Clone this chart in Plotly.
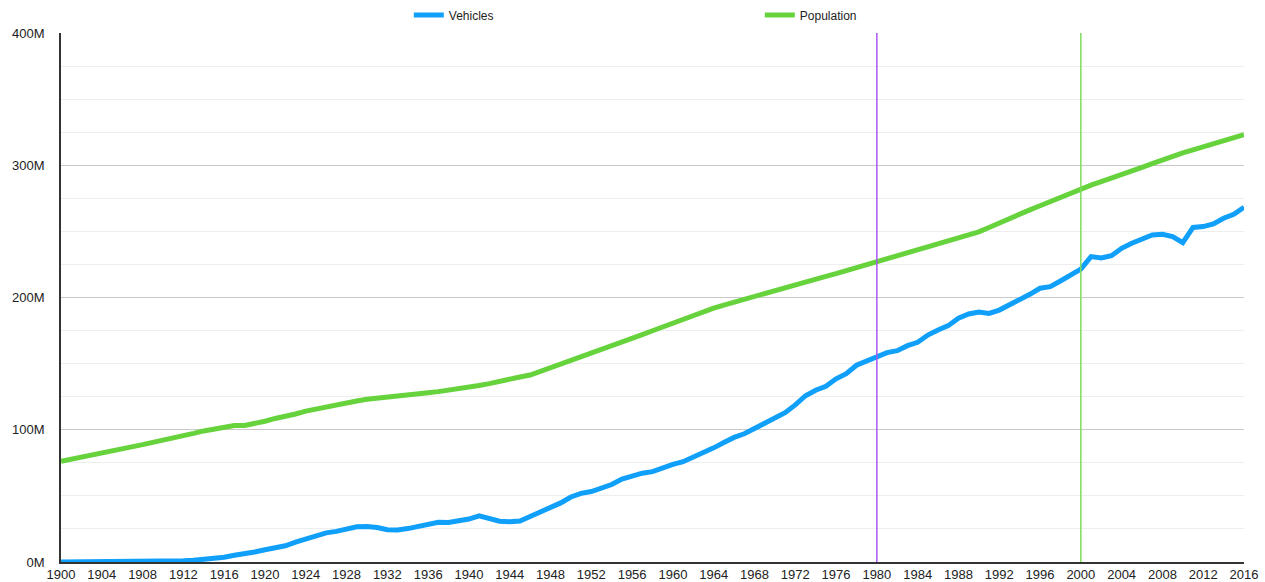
import plotly.graph_objects as go

years = list(range(1900, 2017))

# US registered motor vehicles, millions
vehicles = [
    0.008, 0.014, 0.023, 0.033, 0.055, 0.078, 0.108, 0.143, 0.198, 0.312,
    0.468, 0.639, 0.944, 1.26, 1.76, 2.49, 3.62, 5.12, 6.16, 7.57,
    9.24, 10.46, 12.27, 15.09, 17.61, 20.07, 22.05, 23.13, 24.69, 26.70,
    26.75, 26.09, 24.39, 24.16, 25.26, 26.55, 28.52, 30.06, 29.81, 31.01,
    32.45, 34.89, 33.00, 30.89, 30.48, 31.04, 34.37, 37.84, 41.09, 44.69,
    49.16, 51.91, 53.27, 56.28, 58.59, 62.69, 65.15, 67.13, 68.30, 71.35,
    73.77, 75.85, 79.07, 82.72, 86.30, 90.36, 94.19, 96.93, 100.88, 105.10,
    108.41, 112.9, 118.8, 125.7, 129.9, 132.9, 138.5, 142.4, 148.8, 151.9,
    155.8, 158.3, 159.8, 163.6, 166.1, 171.6, 175.4, 178.7, 184.3, 187.5,
    189.0, 188.0, 190.5, 194.3, 198.6, 202.4, 207.0, 208.2, 212.5, 217.0,
    221.5, 230.9, 229.9, 231.6, 237.2, 241.0, 244.0, 247.3, 247.8, 246.0,
    241.5, 253.0, 253.6, 255.6, 259.9, 262.9, 268.2,
]

# US population, millions
population = [
    76.09, 77.58, 79.16, 80.63, 82.17, 83.82, 85.45, 87.01, 88.71, 90.49,
    92.41, 93.86, 95.34, 97.23, 99.11, 100.55, 101.96, 103.27, 103.21, 104.51,
    106.46, 108.54, 110.05, 111.95, 114.11, 115.83, 117.40, 119.04, 120.51, 121.77,
    123.08, 124.04, 124.84, 125.58, 126.37, 127.25, 128.05, 128.83, 129.83, 130.88,
    132.12, 133.40, 134.86, 136.74, 138.40, 139.93, 141.39, 144.13, 146.63, 149.19,
    152.27, 154.88, 157.55, 160.18, 163.03, 165.93, 168.90, 171.98, 174.88, 177.83,
    180.67, 183.69, 186.54, 189.24, 191.89, 194.30, 196.56, 198.71, 200.71, 202.68,
    205.05, 207.66, 209.90, 211.91, 213.85, 215.97, 218.04, 220.24, 222.58, 225.06,
    227.22, 229.47, 231.66, 233.79, 235.82, 237.92, 240.13, 242.29, 244.50, 246.82,
    249.62, 252.98, 256.51, 259.92, 263.13, 266.28, 269.39, 272.65, 275.85, 279.04,
    282.16, 284.97, 287.63, 290.11, 292.81, 295.52, 298.38, 301.23, 304.09, 306.77,
    309.33, 311.58, 313.87, 316.06, 318.39, 320.74, 323.07,
]

x_ticks = list(range(1900, 2017, 4))
y_ticks = [0, 100e6, 200e6, 300e6, 400e6]
y_labels = ["0M", "100M", "200M", "300M", "400M"]
marker_years = [1980, 2000]
marker_colors = ["#a855f7", "#7fdd5a"]

fig = go.Figure()
fig.add_trace(go.Scatter(x=years, y=[v * 1e6 for v in vehicles], name="Vehicles",
                         mode="lines", line=dict(color="#10a0fa", width=5)))
fig.add_trace(go.Scatter(x=years, y=[v * 1e6 for v in population], name="Population",
                         mode="lines", line=dict(color="#66d33c", width=5)))

# marker lines sit on top of the data lines
for yr, col in zip(marker_years, marker_colors):
    fig.add_shape(type="line", x0=yr, x1=yr, y0=0, y1=1, xref="x", yref="paper",
                  line=dict(color=col, width=1.5), layer="above")

fig.update_layout(
    width=1265, height=582,
    margin=dict(l=61, r=21, t=33, b=20, autoexpand=False),
    plot_bgcolor="white", paper_bgcolor="white",
    font=dict(family="Liberation Sans, Arial, sans-serif", size=13, color="#222"),
    showlegend=True,
    legend=dict(orientation="h", x=0.294, xanchor="left", y=1.034, yanchor="middle",
                entrywidth=306, font=dict(size=12), itemwidth=30,
                bgcolor="rgba(0,0,0,0)"),
)
fig.update_xaxes(range=[1900, 2016], tickvals=x_ticks, showgrid=False, zeroline=False,
                 showline=True, linecolor="#333", linewidth=1.5, ticks="",
                 ticklabelstandoff=0, automargin=False)
fig.update_yaxes(range=[0, 400e6], tickvals=y_ticks, ticktext=y_labels,
                 showgrid=True, gridcolor="#c8c8c8", gridwidth=1, zeroline=False,
                 showline=True, linecolor="#333", linewidth=1.5, ticks="",
                 ticklabelstandoff=12, automargin=False,
                 minor=dict(dtick=25e6, showgrid=True, gridcolor="#eeeeee", gridwidth=1))

# drop the page's default body margin so the figure sits at the window corner
fig.write_html("out.html", config={"displayModeBar": False},
               post_script="document.body.style.margin='0';")
